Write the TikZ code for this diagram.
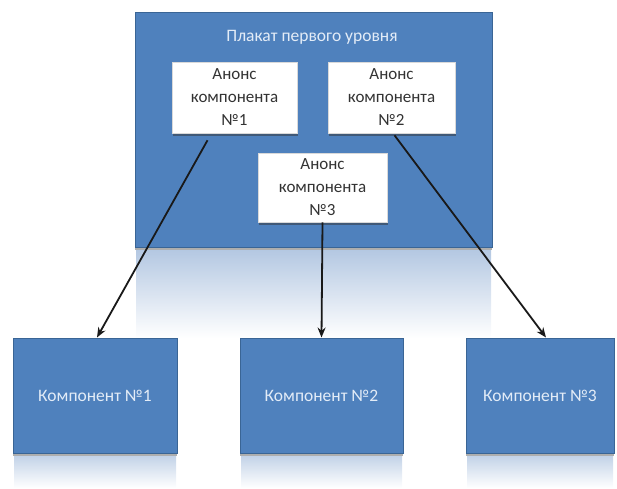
\documentclass[tikz,border=0pt]{standalone}
\usepackage{fontspec}
\setmainfont{Carlito}
\usetikzlibrary{shadows,arrows.meta}
\definecolor{obl}{HTML}{4F81BD}
\definecolor{obd}{HTML}{3A6595}
\definecolor{refl}{HTML}{B4C8E2}
\definecolor{ltxt}{HTML}{E3ECF7}
\begin{document}
\begin{tikzpicture}[x=1pt,y=-1pt,
  bluebox/.style={rectangle, draw=obd, line width=1pt, fill=obl, inner sep=0pt,
    drop shadow={shadow xshift=0pt, shadow yshift=-3pt, opacity=0.45, fill=black!70}},
  whitebox/.style={rectangle, draw=white!85!black, line width=0.6pt, fill=white, inner sep=0pt, align=center,
    font=\fontsize{17}{23}\selectfont, text=black!80,
    drop shadow={shadow xshift=1pt, shadow yshift=-3pt, opacity=0.5, fill=black!80}},
  lighttext/.style={text=ltxt, font=\fontsize{17.5}{20}\selectfont},
  arr/.style={-{Stealth[length=10pt,width=8pt]}, line width=1.8pt, draw=black!90}]
\useasboundingbox (0,0) rectangle (617,488);
% reflections
\shade[top color=refl, bottom color=white] (136,250) rectangle (491,338);
\shade[top color=refl!80, bottom color=white] (14,456) rectangle (176,488);
\shade[top color=refl!80, bottom color=white] (241,456) rectangle (402,488);
\shade[top color=refl!80, bottom color=white] (467,456) rectangle (613,488);
% main poster
\node[bluebox, minimum width=357pt, minimum height=235pt] (big) at (313.5,129.5) {};
\node[lighttext] (title) at (312,37) {Плакат первого уровня};
\node[whitebox, minimum width=125pt, minimum height=71pt] (a1) at (234.5,97.5) {Анонс\\компонента\\№1};
\node[whitebox, minimum width=127pt, minimum height=71pt] (a2) at (391.5,97.5) {Анонс\\компонента\\№2};
\node[whitebox, minimum width=129pt, minimum height=69pt] (a3) at (322.5,187.5) {Анонс\\компонента\\№3};
% components
\node[bluebox, minimum width=164pt, minimum height=115pt, lighttext] (k1) at (95,395.5) {Компонент №1};
\node[bluebox, minimum width=163pt, minimum height=115pt, lighttext] (k2) at (321.5,395.5) {Компонент №2};
\node[bluebox, minimum width=148pt, minimum height=115pt, lighttext] (k3) at (540,395.5) {Компонент №3};
% arrows
\draw[arr] ([xshift=-27pt,yshift=-7pt]a1.south) -- ([xshift=2pt]k1.north);
\draw[arr] (a3.south) -- (k2.north);
\draw[arr] ([xshift=3pt,yshift=-2pt]a2.south) -- ([xshift=6pt]k3.north);
\end{tikzpicture}
\end{document}
